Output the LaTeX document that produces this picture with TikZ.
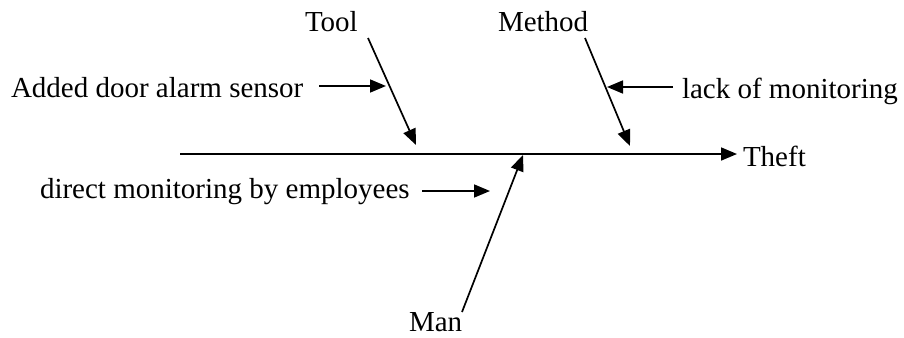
\documentclass[tikz,border=0pt]{standalone}
\usepackage{fontspec}
\setmainfont{Liberation Serif}
\usetikzlibrary{arrows.meta}
\begin{document}
\begin{tikzpicture}[x=1pt,y=-1pt,
  lbl/.style={inner sep=0pt,outer sep=0pt,font=\fontsize{29}{34}\selectfont},
  bone/.style={line width=1.7pt,-{Triangle[length=16pt,width=13pt]}}]
\useasboundingbox (0,0) rectangle (904,337);
% labels
\node[lbl,anchor=base west] (tool)   at (305,32)  {Tool};
\node[lbl,anchor=base west] (method) at (498,32)  {Method};
\node[lbl,anchor=base west] (added)  at (11,97)   {Added door alarm sensor};
\node[lbl,anchor=base west] (lack)   at (682,98)  {lack of monitoring};
\node[lbl,anchor=base west] (direct) at (40,198)  {direct monitoring by employees};
\node[lbl,anchor=base west] (theft)  at (743,166) {Theft};
\node[lbl,anchor=base west] (man)    at (409,331) {Man};
% bone end points
\coordinate (spineS) at (180,154);
\coordinate (spineE) at (737,154);
\coordinate (toolS) at (368,38);
\coordinate (toolE) at (416,145);
\coordinate (methS) at (585,38);
\coordinate (methE) at (630,146);
\coordinate (manS) at (462,312);
\coordinate (manE) at (523,155);
\coordinate (addS) at (319,86);
\coordinate (addE) at (386,86);
\coordinate (lackS) at (673,87);
\coordinate (lackE) at (607,87);
\coordinate (dirS) at (422,191);
\coordinate (dirE) at (490,191);
% spine and bones
\draw[bone] (spineS) -- (spineE);
\draw[bone] (toolS) -- (toolE);
\draw[bone] (methS) -- (methE);
\draw[bone] (manS) -- (manE);
\draw[bone] (addS) -- (addE);
\draw[bone] (lackS) -- (lackE);
\draw[bone] (dirS) -- (dirE);
\end{tikzpicture}
\end{document}
